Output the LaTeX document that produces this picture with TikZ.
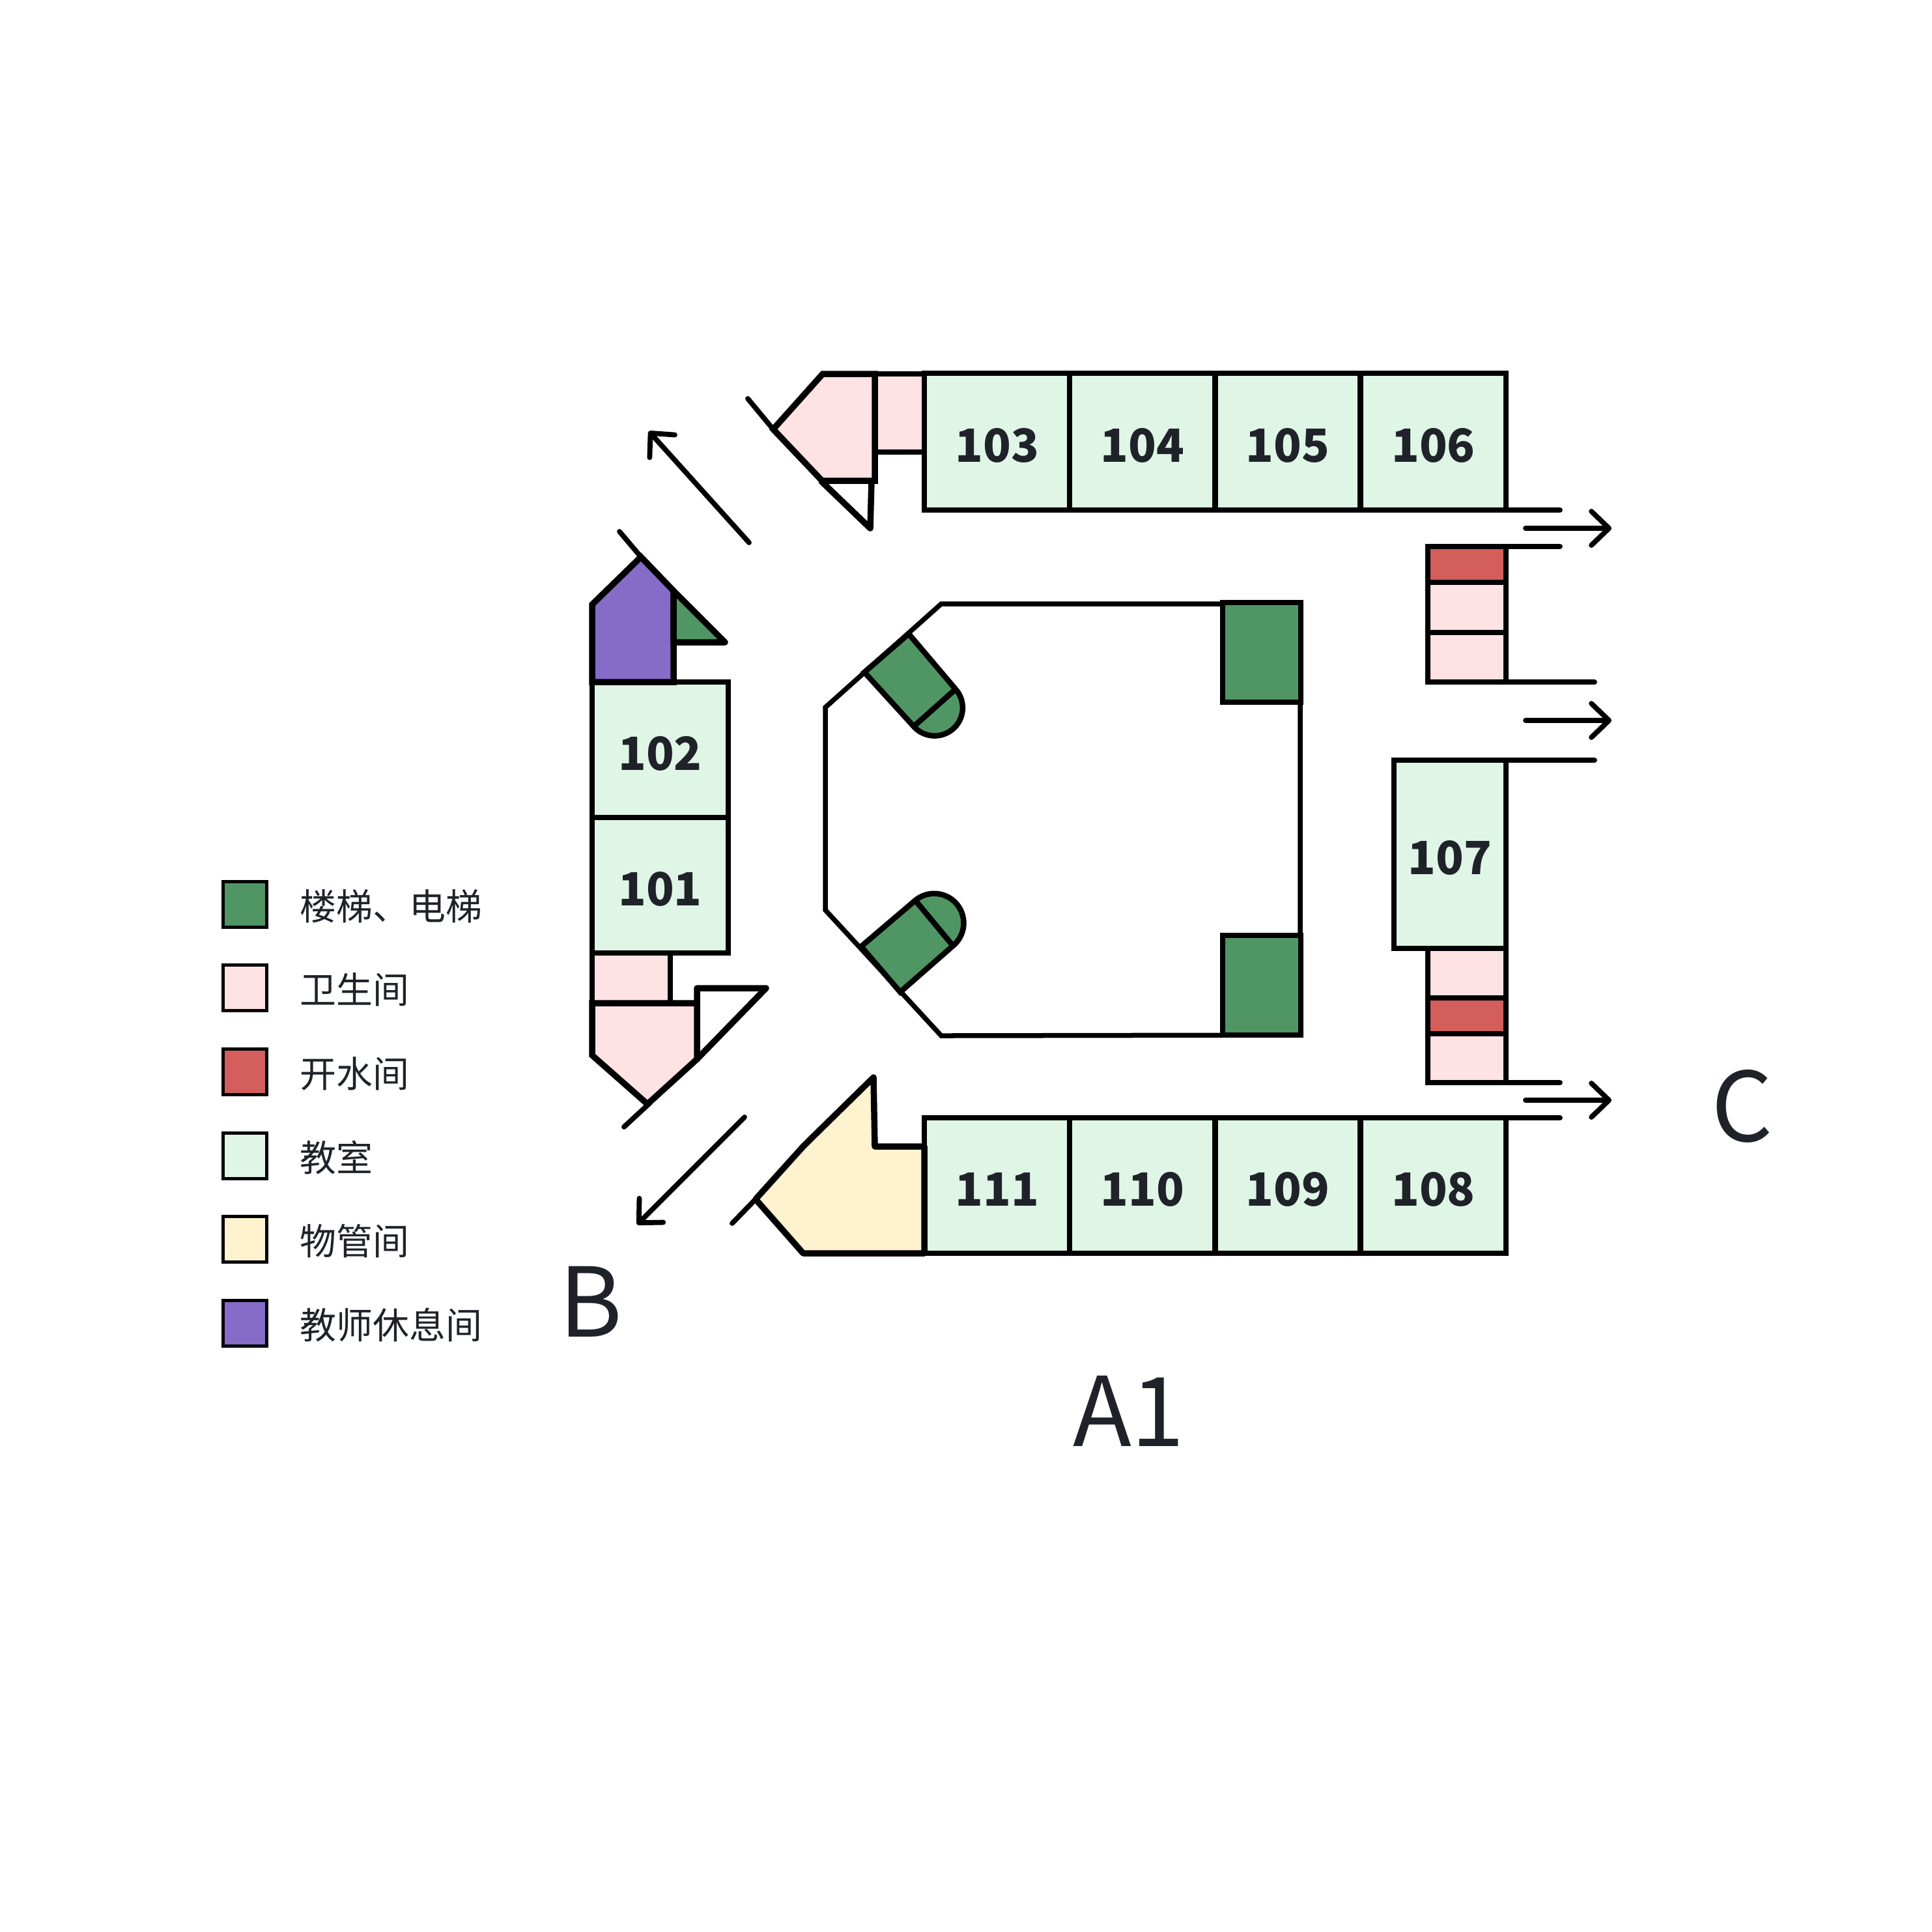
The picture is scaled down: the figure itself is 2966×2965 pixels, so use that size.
\documentclass[tikz,border=0pt]{standalone}
\usepackage{fontspec}
\setmainfont{Noto Sans CJK SC}
\usetikzlibrary{arrows.meta}
\definecolor{stairgreen}{HTML}{509664}
\definecolor{wcpink}{HTML}{FFE2E4}
\definecolor{waterred}{HTML}{D35E5C}
\definecolor{roomgreen}{HTML}{DFF5E6}
\definecolor{mgmtyellow}{HTML}{FFF2CF}
\definecolor{restpurple}{HTML}{866BC8}
\definecolor{inkgrey}{HTML}{1F2329}
\newcommand{\roomnum}[1]{\raisebox{-.31cm}[0pt][0pt]{#1}}
\tikzset{
    wall/.style={line width=.085cm,draw=black,line join=miter},
    wing/.style={wall,line width=.095cm},
    pointy/.style={wall,line width=.095cm,line join=round},
    thinwall/.style={line width=.078cm,draw=black,line cap=round},
    goarrow/.style={line width=.078cm,line cap=round,-{Straight Barb[length=.27cm,width=.52cm,line width=.078cm,round]}},
    room/.style={wall,shape=rectangle,inner sep=0pt,outer sep=0pt,text=inkgrey,font=\fontsize{20}{24}\bfseries\selectfont},
    classroom/.style={room,fill=roomgreen,minimum width=2.2325cm,minimum height=2.08cm},
    swatch/.style={shape=rectangle,draw=black,line width=.05cm,inner sep=0pt,minimum width=.66cm,minimum height=.7cm},
    legendtext/.style={anchor=west,inner sep=0pt,text=inkgrey,font=\fontsize{15.9}{18}\selectfont},
    bigtext/.style={inner sep=0pt,text=inkgrey,font=\fontsize{42}{48}\selectfont}
}
\begin{document}
\begin{tikzpicture}[x=.01cm,y=-.01cm]
    \useasboundingbox (0,0) rectangle (2966,2965);
    % top and bottom row
    \foreach \num/\xc in {103/1530.6,104/1753.9,105/1977.1,106/2200.4}
        \node[classroom,minimum height=2.1cm] (r\num) at (\xc,678) {\roomnum{\num}};
    \foreach \num/\xc in {111/1530.6,110/1753.9,109/1977.1,108/2200.4}
        \node[classroom] (r\num) at (\xc,1820) {\roomnum{\num}};
    % left block
    \node[classroom,minimum width=2.09cm] (r102) at (1013.5,1151) {\roomnum{102}};
    \node[classroom,minimum width=2.09cm] (r101) at (1013.5,1359) {\roomnum{101}};
    % right block
    \node[classroom,minimum width=1.72cm,minimum height=2.89cm] (r107) at (2226,1311.5) {\roomnum{107}};
    \node[room,fill=waterred,minimum width=1.2cm,minimum height=.55cm] (w1) at (2252,866.5) {};
    \node[room,fill=wcpink,minimum width=1.2cm,minimum height=.77cm] (t1) at (2252,932.5) {};
    \node[room,fill=wcpink,minimum width=1.2cm,minimum height=.76cm] (t2) at (2252,1009) {};
    \node[room,fill=wcpink,minimum width=1.2cm,minimum height=.76cm] (t3) at (2252,1494) {};
    \node[room,fill=waterred,minimum width=1.2cm,minimum height=.55cm] (w2) at (2252,1559.5) {};
    \node[room,fill=wcpink,minimum width=1.2cm,minimum height=.75cm] (t4) at (2252,1624.5) {};
    % wings
    \draw[wall,fill=wcpink] (1343,574) rectangle (1419,694);
    \draw[pointy] (1260,738) -- (1336,811) -- (1338,738);
    \draw[wing,fill=wcpink] (1263,574) -- (1187,659) -- (1262,738) -- (1343,738) -- (1343,574) -- cycle;
    \draw[thinwall] (1148,612) -- (1187,659);
    \draw[wing,fill=restpurple] (909,928) -- (984,855) -- (1034,907) -- (1034,1047) -- (909,1047) -- cycle;
    \draw[pointy,fill=stairgreen] (1034,907) -- (1113,986) -- (1034,986) -- cycle;
    \draw[thinwall] (951,816) -- (984,855);
    \draw[wall,fill=wcpink] (909,1463) rectangle (1029,1540);
    \draw[pointy] (1070,1626) -- (1070,1517) -- (1176,1517) -- cycle;
    \draw[wing,fill=wcpink] (909,1540) -- (1070,1540) -- (1070,1626) -- (994,1695) -- (909,1620) -- cycle;
    \draw[thinwall] (958,1730) -- (998,1693);
    \draw[pointy,fill=mgmtyellow] (1341,1654) -- (1343,1760) -- (1419,1760) -- (1419,1924) -- (1233,1924) -- (1160,1841) -- (1233,1760) -- (1241,1752) -- cycle;
    \draw[thinwall] (1124,1878) -- (1160,1841);
    % centre block
    \draw[wall,line width=.075cm] (1267,1086) -- (1445,927) -- (1996,927) -- (1996,1589) -- (1445,1590) -- (1267,1397) -- cycle;
    \draw[wall,fill=stairgreen] (1877,925) rectangle (1997,1078);
    \draw[wall,fill=stairgreen] (1877,1436) rectangle (1997,1589);
    \draw[wall,fill=stairgreen] (1327,1032) -- (1395,973) -- (1467,1058) arc[start angle=41.6,end angle=-138.4,radius=.43cm] -- cycle;
    \draw[wall] (1467,1058) -- (1403,1115);
    \draw[wall,fill=stairgreen] (1322,1453) -- (1382,1523) -- (1463,1452) arc[start angle=-50.4,end angle=129.6,radius=.453cm] -- cycle;
    \draw[wall] (1405,1382) -- (1463,1452);
    % exits
    \draw[thinwall] (r106.south east) -- (2395,783);
    \draw[thinwall] (w1.north east) -- (2395,839);
    \draw[thinwall] (t2.south east) -- (2448,1047);
    \draw[thinwall] (r107.north east) -- (2448,1167);
    \draw[thinwall] (t4.south east) -- (2395,1662);
    \draw[thinwall] (r108.north east) -- (2395,1716);
    \draw[goarrow] (2342,811) -- (2474,811);
    \draw[goarrow] (2342,1106) -- (2474,1106);
    \draw[goarrow] (2342,1689) -- (2474,1689);
    \draw[goarrow] (1150,833) -- (996,662);
    \draw[goarrow] (1143,1715) -- (978,1880);
    % legend
    \foreach \col/\yc/\txt in {stairgreen/1388/楼梯、电梯,wcpink/1516.5/卫生间,waterred/1645.5/开水间,roomgreen/1774/教室,mgmtyellow/1902/物管间,restpurple/2031/教师休息间}{
        \node[swatch,fill=\col] (sw\col) at (376,\yc) {};
        \node[legendtext] (lb\col) at (460,\yc+3) {\txt};
    }
    % block names
    \node[bigtext] (nameA) at (1733,2166) {A1};
    \node[bigtext] (nameB) at (907,1998) {B};
    \node[bigtext] (nameC) at (2675,1698) {C};
\end{tikzpicture}
\end{document}
